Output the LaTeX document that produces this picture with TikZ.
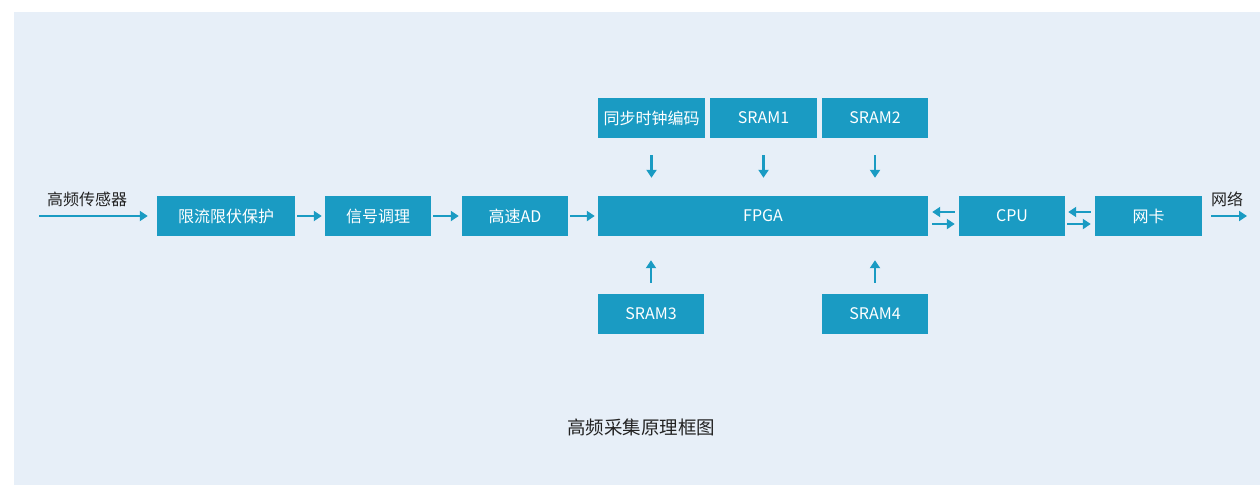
\documentclass[tikz,border=0pt]{standalone}
\usepackage{fontspec}
\setmainfont{Noto Sans CJK SC}
\usetikzlibrary{arrows.meta}
\definecolor{boxc}{HTML}{1A9BC3}
\definecolor{bgc}{HTML}{E7EFF8}
\definecolor{txtc}{HTML}{222222}
\begin{document}
\begin{tikzpicture}[x=1pt,y=-1pt,
  blk/.style={fill=boxc,draw=none,text=white,inner sep=0pt,font=\fontsize{16}{18}\selectfont},
  arr/.style={draw=boxc,line width=2.2pt,-{Triangle[length=8pt,width=10pt]}},
  lbl/.style={text=txtc,inner sep=0pt,font=\fontsize{16}{18}\selectfont}]
\useasboundingbox (0,0) rectangle (1260,485);
\fill[bgc] (14,12) rectangle (1260,485);
% boxes
\node[blk,minimum width=138pt,minimum height=40pt] (xl) at (226,216) {限流限伏保护};
\node[blk,minimum width=106pt,minimum height=40pt] (xh) at (378,216) {信号调理};
\node[blk,minimum width=106pt,minimum height=40pt] (ad) at (515,216) {高速AD};
\node[blk,minimum width=330pt,minimum height=40pt] (fpga) at (763,216) {FPGA};
\node[blk,minimum width=107pt,minimum height=40pt] (tb) at (651.5,118) {同步时钟编码};
\node[blk,minimum width=107pt,minimum height=40pt] (s1) at (763.5,118) {SRAM1};
\node[blk,minimum width=106pt,minimum height=40pt] (s2) at (875,118) {SRAM2};
\node[blk,minimum width=106pt,minimum height=40pt] (s3) at (651,314) {SRAM3};
\node[blk,minimum width=106pt,minimum height=40pt] (s4) at (875,314) {SRAM4};
\node[blk,minimum width=106pt,minimum height=40pt] (cpu) at (1012,216) {CPU};
\node[blk,minimum width=107pt,minimum height=40pt] (wk) at (1148.5,216) {网卡};
% labels
\node[lbl] (sensor) at (87,199) {高频传感器};
\node[lbl] (net) at (1227,199) {网络};
\node[text=txtc,inner sep=0pt,font=\fontsize{18.5}{21}\selectfont] (title) at (641,427) {高频采集原理框图};
\coordinate (inS) at (39,216);
\coordinate (outE) at (1247,216);
% horizontal arrows
\draw[arr] (inS) -- ([xshift=-9pt]xl.west);
\draw[arr] ([xshift=2pt]xl.east) -- ([xshift=-3pt]xh.west);
\draw[arr] ([xshift=2pt]xh.east) -- ([xshift=-3pt]ad.west);
\draw[arr] ([xshift=2pt]ad.east) -- ([xshift=-3pt]fpga.west);
\draw[arr] ([xshift=9pt]wk.east) -- (outE);
% bidirectional pairs
\draw[arr] ([xshift=-4pt,yshift=4pt]cpu.west) -- ([xshift=4pt,yshift=4pt]fpga.east);
\draw[arr] ([xshift=4pt,yshift=-8pt]fpga.east) -- ([xshift=-4pt,yshift=-8pt]cpu.west);
\draw[arr] ([xshift=-4pt,yshift=4pt]wk.west) -- ([xshift=3pt,yshift=4pt]cpu.east);
\draw[arr] ([xshift=2pt,yshift=-8pt]cpu.east) -- ([xshift=-4pt,yshift=-8pt]wk.west);
% vertical arrows
\draw[arr] ([yshift=-17pt]tb.south) -- ([yshift=18pt]fpga.north -| tb.south);
\draw[arr] ([yshift=-17pt]s1.south) -- ([yshift=18pt]fpga.north -| s1.south);
\draw[arr] ([yshift=-17pt]s2.south) -- ([yshift=18pt]fpga.north -| s2.south);
\draw[arr] ([yshift=11pt]s3.north) -- ([yshift=-24pt]fpga.south -| s3.north);
\draw[arr] ([yshift=11pt]s4.north) -- ([yshift=-24pt]fpga.south -| s4.north);
\end{tikzpicture}
\end{document}
